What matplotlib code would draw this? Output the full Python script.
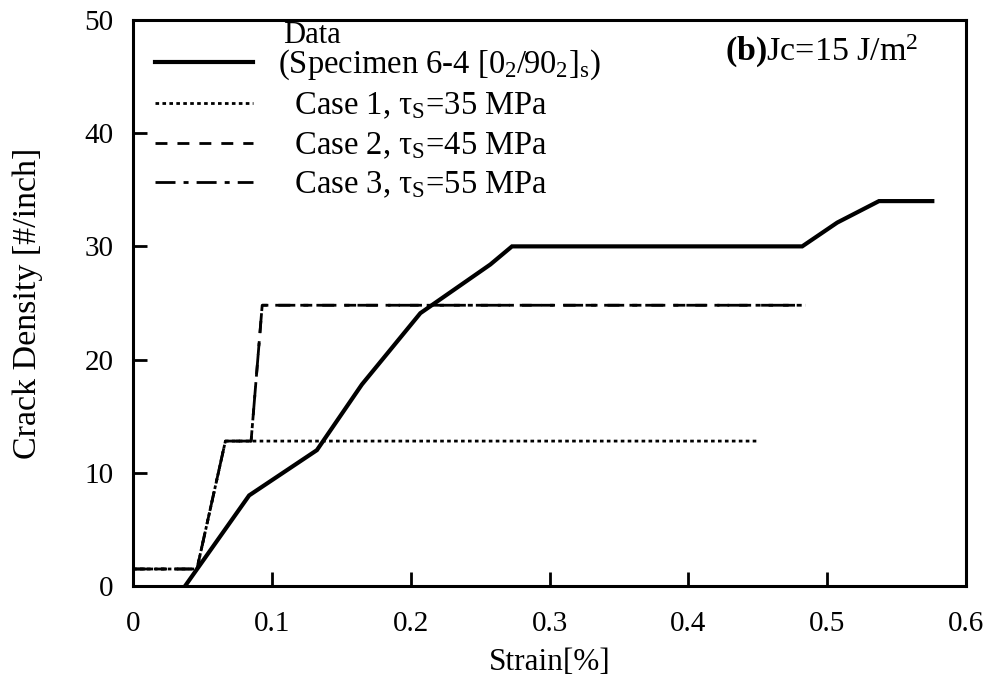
import matplotlib
matplotlib.use("Agg")
import matplotlib.pyplot as plt
from matplotlib.lines import Line2D

plt.rcParams['font.family'] = ['Liberation Serif', 'DejaVu Serif']
plt.rcParams['mathtext.fontset'] = 'custom'
plt.rcParams['mathtext.rm'] = 'Liberation Serif'
plt.rcParams['mathtext.bf'] = 'Liberation Serif:bold'
plt.rcParams['mathtext.it'] = 'Liberation Serif:italic'

# Data (Specimen 6-4)
data_strain = [0.0375, 0.0836, 0.1324, 0.1648, 0.2069, 0.2573, 0.2729, 0.4819, 0.5071, 0.5372, 0.5756]
data_density = [0.0, 8.0, 12.0, 17.8, 24.1, 28.4, 30.0, 30.0, 32.1, 34.0, 34.0]

# Case 1, tau_s = 35 MPa
case1_strain = [0.0, 0.046, 0.0665, 0.450]
case1_density = [1.5, 1.5, 12.8, 12.8]

# Case 2, tau_s = 45 MPa
case2_strain = [0.0, 0.046, 0.0665, 0.085, 0.093, 0.484]
case2_density = [1.5, 1.5, 12.8, 12.8, 24.8, 24.8]

# Case 3, tau_s = 55 MPa
case3_strain = [0.0, 0.046, 0.0665, 0.085, 0.093, 0.484]
case3_density = [1.5, 1.5, 12.8, 12.8, 24.8, 24.8]

xticks = [0, 0.1, 0.2, 0.3, 0.4, 0.5, 0.6]
xticklabels = ['0', '0.1', '0.2', '0.3', '0.4', '0.5', '0.6']
yticks = [0, 10, 20, 30, 40, 50]

fig = plt.figure(figsize=(9.93, 6.82), dpi=100)
ax = fig.add_axes([0.134, 0.1408, 0.839, 0.8299])

ax.plot(data_strain, data_density, color='black', lw=3.0, solid_joinstyle='miter')
ax.plot(case1_strain, case1_density, color='black', lw=2.0, dashes=(1.3, 1.2))
ax.plot(case2_strain, case2_density, color='black', lw=2.0, dashes=(4.3, 3.6))
ax.plot(case3_strain, case3_density, color='black', lw=2.0, dashes=(7.2, 2.9, 1.8, 2.9))

ax.set_xlim(0, 0.6)
ax.set_ylim(0, 50)
ax.set_xticks(xticks)
ax.set_xticklabels(xticklabels)
ax.set_yticks(yticks)
ax.tick_params(direction='in', length=10, width=2, labelsize=21)
ax.tick_params(axis='x', pad=18)
ax.tick_params(axis='y', pad=14)
for s in ax.spines.values():
    s.set_linewidth(2.2)

ax.set_xlabel('Strain[%]', fontsize=22.5, labelpad=8)
ax.set_ylabel('Crack Density [#/inch]', fontsize=24.5, labelpad=30)

handles = [
    Line2D([], [], color='black', lw=3.0),
    Line2D([], [], color='black', lw=2.0, dashes=(1.3, 1.2)),
    Line2D([], [], color='black', lw=2.0, dashes=(4.3, 3.6)),
    Line2D([], [], color='black', lw=2.0, dashes=(7.2, 2.9, 1.8, 2.9)),
]
labels = [
    r'(Specimen 6-4 [0$_2$/90$_2$]$_\mathrm{s}$)',
    r'  Case 1, τ$_\mathrm{S}$=35 MPa',
    r'  Case 2, τ$_\mathrm{S}$=45 MPa',
    r'  Case 3, τ$_\mathrm{S}$=55 MPa',
]
leg = ax.legend(handles, labels, loc='upper left', bbox_to_anchor=(0.026, 0.951),
                frameon=False, fontsize=23.5, handlelength=3.0, handletextpad=0.78,
                labelspacing=0.27, borderpad=0, borderaxespad=0)

ax.text(0.18, 0.973, 'Data', transform=ax.transAxes, fontsize=22, va='center', ha='left')
ax.text(0.711, 0.945, r'$\mathbf{(b)}$Jc=15 J/m$^2$', transform=ax.transAxes,
        fontsize=24.5, va='center', ha='left')

fig.savefig('out.png', dpi=100)
